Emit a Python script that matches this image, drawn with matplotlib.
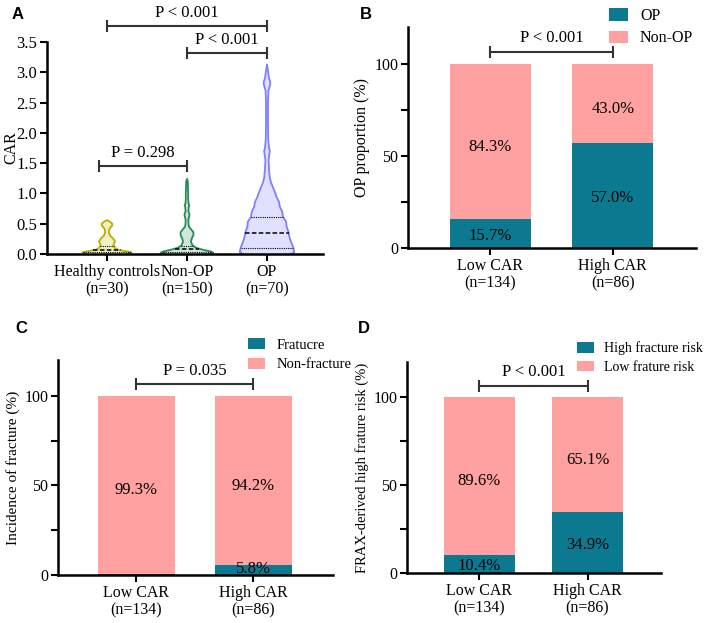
import numpy as np
import matplotlib
matplotlib.use("Agg")
import matplotlib.pyplot as plt
from matplotlib.ticker import MultipleLocator, FormatStrFormatter

plt.rcParams['font.family'] = ['Liberation Serif', 'DejaVu Serif']
plt.rcParams['font.size'] = 11.5

# ---- panel A: violin outlines (CAR level, half width) ----
violin_groups = ["Healthy controls\n(n=30)", "Non-OP\n(n=150)", "OP\n(n=70)"]

hc_y = [0, 0.01, 0.03, 0.05, 0.07, 0.10, 0.14, 0.18, 0.21, 0.25, 0.30, 0.35,
        0.40, 0.44, 0.47, 0.50, 0.53, 0.56]
hc_w = [0.26, 0.31, 0.30, 0.22, 0.14, 0.10, 0.08, 0.09, 0.10, 0.08, 0.04, 0.025,
        0.025, 0.045, 0.065, 0.065, 0.04, 0.0]
hc_quart = [0.03, 0.06, 0.13]

nonop_y = [0, 0.02, 0.04, 0.07, 0.10, 0.14, 0.20, 0.26, 0.31, 0.36, 0.41, 0.45,
           0.50, 0.58, 0.63, 0.66, 0.70, 0.78, 0.80, 0.83, 0.90, 1.00, 1.10, 1.20, 1.24]
nonop_w = [0.28, 0.33, 0.30, 0.20, 0.12, 0.07, 0.05, 0.06, 0.08, 0.08, 0.05, 0.025,
           0.018, 0.018, 0.03, 0.03, 0.018, 0.022, 0.03, 0.02, 0.015, 0.015, 0.012, 0.01, 0.0]
nonop_quart = [0.04, 0.09, 0.14]

op_y = [0, 0.03, 0.10, 0.20, 0.28, 0.36, 0.45, 0.53, 0.61, 0.70, 0.78, 0.86, 0.94,
        1.02, 1.10, 1.18, 1.26, 1.40, 1.55, 1.65, 1.70, 1.75, 1.90, 2.20, 2.50, 2.70,
        2.80, 2.85, 2.90, 3.00, 3.13]
op_w = [0.30, 0.34, 0.33, 0.30, 0.28, 0.27, 0.245, 0.24, 0.20, 0.19, 0.16, 0.15, 0.12,
        0.10, 0.075, 0.05, 0.035, 0.025, 0.02, 0.03, 0.036, 0.025, 0.015, 0.012, 0.012,
        0.018, 0.04, 0.04, 0.025, 0.015, 0.0]
op_quart = [0.10, 0.34, 0.61]

# ---- panels B-D: stacked percentages ----
bar_groups = ["Low CAR\n(n=134)", "High CAR\n(n=86)"]
op_pct = [15.7, 57.0]
nonop_pct = [84.3, 43.0]
frac_pct = [0.7, 5.8]
nonfrac_pct = [99.3, 94.2]
highrisk_pct = [10.4, 34.9]
lowrisk_pct = [89.6, 65.1]

teal = "#0b7a90"
pink = "#ffa1a1"
fs = 11.5

fig = plt.figure(figsize=(7.08, 6.23), dpi=100)


def style_axes(ax):
    for s in ["top", "right"]:
        ax.spines[s].set_visible(False)
    for s in ["left", "bottom"]:
        ax.spines[s].set_linewidth(1.8)
    ax.tick_params(which="both", length=5, width=1.5, direction="out", pad=2)


def bracket(ax, x1, x2, y, text, dy):
    ax.plot([x1, x2], [y, y], color="#333333", lw=1.5, clip_on=False)
    ax.plot([x1, x2], [y, y], ls="none", marker="|", ms=8, mew=1.5,
            color="#333333", clip_on=False)
    ax.text((x1 + x2) / 2, y + dy, text, ha="center", va="bottom", fontsize=12)


# ---------------- A ----------------
axA = fig.add_axes([0.0664, 0.5923, 0.3898, 0.3403])
style_axes(axA)
violins = [(hc_y, hc_w, hc_quart, "#b8b000", "#f1f0c4"),
           (nonop_y, nonop_w, nonop_quart, "#2a8a55", "#cde8d9"),
           (op_y, op_w, op_quart, "#7f7fff", "#e0e0ff")]
for i, (yy, ww, qq, edge, face) in enumerate(violins):
    yy = np.array(yy)
    ww = np.array(ww)
    axA.fill_betweenx(yy, i - ww, i + ww, color=face, lw=0)
    axA.plot(np.r_[i - ww, (i + ww)[::-1]], np.r_[yy, yy[::-1]], color=edge, lw=1.3)
    for k, q in enumerate(qq):
        hw = np.interp(q, yy, ww)
        axA.plot([i - hw, i + hw], [q, q], color="black",
                 ls=(0, (3, 1.5)) if k == 1 else (0, (1, 1)),
                 lw=1.1 if k == 1 else 0.8)
axA.set_xlim(-0.75, 2.7)
axA.set_ylim(0, 3.5)
axA.yaxis.set_major_locator(MultipleLocator(0.5))
axA.yaxis.set_major_formatter(FormatStrFormatter("%.1f"))
axA.set_xticks(range(3))
axA.set_xticklabels(violin_groups, fontsize=11.5, linespacing=1.15)
axA.tick_params(axis="y", labelsize=12)
axA.set_ylabel("CAR", fontsize=11.5)
axA.yaxis.set_label_coords(-0.1, 0.5)
bracket(axA, 0, 2, 3.76, "P < 0.001", 0.08)
bracket(axA, 1, 2, 3.32, "P < 0.001", 0.08)
bracket(axA, -0.1, 1.0, 1.45, "P = 0.298", 0.08)


# ---------------- B-D ----------------
def stacked(ax, low, high, labels, ylabel, ptext, leg_xy, leg_fs, ylab_fs):
    x = np.arange(len(bar_groups))
    ax.bar(x, low, width=0.66, color=teal, label=labels[0])
    ax.bar(x, high, width=0.66, bottom=low, color=pink, label=labels[1])
    for xi, lo, hi in zip(x, low, high):
        if lo >= 2:
            ax.text(xi, max(lo / 2 - 1.5, 3.5), f"{lo:.1f}%", ha="center",
                    va="center", fontsize=12)
        ax.text(xi, lo + hi / 2 - 3, f"{hi:.1f}%", ha="center", va="center", fontsize=12)
    ax.set_xlim(-0.67, 1.68)
    ax.set_ylim(0, 120)
    ax.set_yticks([0, 50, 100])
    ax.yaxis.set_minor_locator(MultipleLocator(25))
    ax.set_xticks(x)
    ax.set_xticklabels(bar_groups, fontsize=11.5, linespacing=1.15)
    ax.tick_params(axis="y", labelsize=11.5)
    ax.set_ylabel(ylabel, fontsize=ylab_fs, labelpad=3)
    bracket(ax, 0, 1, 106.5, ptext, 3)
    ax.legend(loc="upper left", bbox_to_anchor=leg_xy, bbox_transform=fig.transFigure,
              frameon=False, fontsize=leg_fs, handlelength=1.2, handleheight=0.8,
              borderpad=0, borderaxespad=0, labelspacing=0.4, handletextpad=0.75)


axB = fig.add_axes([0.5763, 0.6019, 0.4068, 0.3547])
style_axes(axB)
stacked(axB, op_pct, nonop_pct, ["OP", "Non-OP"], "OP proportion (%)",
        "P < 0.001", (0.860, 0.987), 11.5, 11.5)

axC = fig.add_axes([0.0819, 0.0770, 0.3884, 0.3451])
style_axes(axC)
stacked(axC, frac_pct, nonfrac_pct, ["Fratucre", "Non-fracture"],
        "Incidence of fracture (%)", "P = 0.035", (0.350, 0.457), 10.5, 11)

axD = fig.add_axes([0.5749, 0.0803, 0.3588, 0.3387])
style_axes(axD)
stacked(axD, highrisk_pct, lowrisk_pct, ["High fracture risk", "Low frature risk"],
        "FRAX-derived high frature risk (%)", "P < 0.001", (0.815, 0.452), 10, 10.5)

# panel letters
for lab, (fx, fy) in zip("ABCD", [(0.016, 0.976), (0.508, 0.976), (0.022, 0.472), (0.506, 0.472)]):
    fig.text(fx, fy, lab, fontsize=12, fontweight="bold",
             family=["Liberation Sans", "DejaVu Sans"], ha="left", va="center")

fig.savefig("out.png", dpi=100)
